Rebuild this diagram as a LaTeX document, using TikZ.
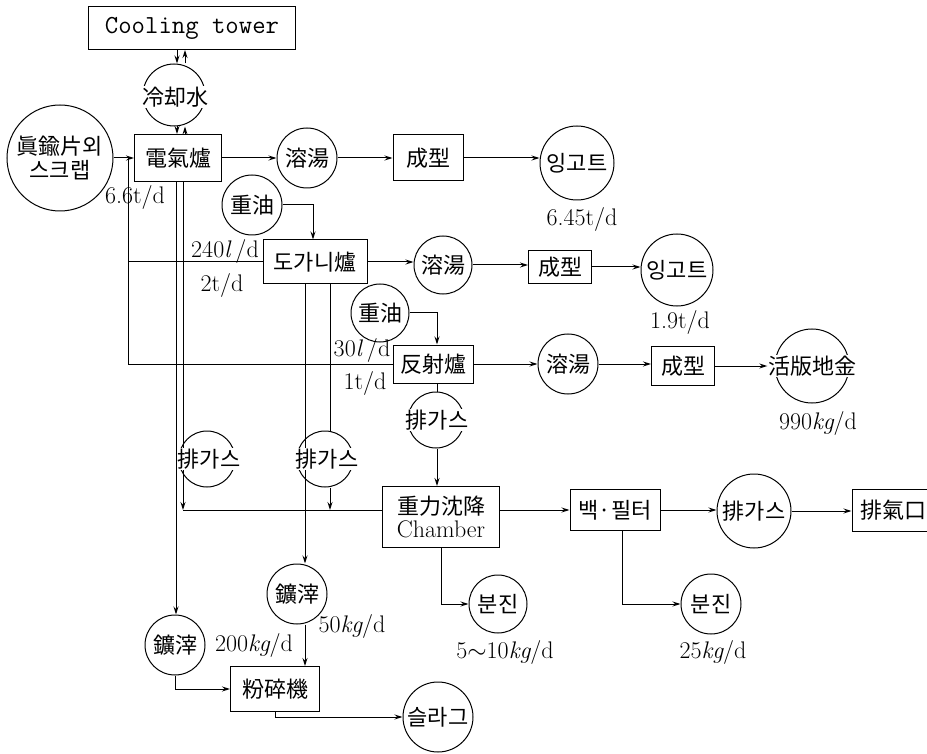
\documentclass[tikz,border=0pt]{standalone}
\usepackage{fontspec}
\newfontfamily\kr{Noto Sans CJK KR}
\usetikzlibrary{arrows.meta,backgrounds}
\begin{document}
\begin{tikzpicture}[x=1pt,y=-1pt,
  box/.style={draw,line width=1pt,inner sep=0pt,font=\kr\fontsize{22}{24}\selectfont},
  circ/.style={draw,circle,line width=1pt,inner sep=0pt,minimum size=#1,font=\kr\fontsize{22}{24}\selectfont},
  wtxt/.style={fill=white,inner sep=0.5pt,font=\kr\fontsize{22}{24}\selectfont},
  num/.style={inner sep=0pt,font=\fontsize{24}{26}\selectfont},
  ln/.style={line width=1pt},
  flow/.style={ln,-{Stealth[length=8pt,width=5pt]}}]
\useasboundingbox (0,0) rectangle (927,754);

% nodes
\node[box,minimum width=207,minimum height=43,font=\ttfamily\fontsize{26}{28}\selectfont] (ct) at (192,28) {Cooling tower};
\node[circ=62] (cw) at (174,95) {};
\node[wtxt] (cwt) at (175,97) {冷却水};
\node[box,minimum width=87,minimum height=47] (el) at (178,158) {電氣爐};
\node[circ=106,align=center] (sc) at (60,158) {眞鍮片외\\스크랩};
\node[num] (l66) at (135,198) {6.6t/d};

\node[circ=60] (o1) at (252,205) {重油};
\node[box,minimum width=104,minimum height=44] (dg) at (315,262) {도가니爐};
\node[num] (l240) at (225,252) {240\textit{l}\,/d};
\node[num] (l2) at (222,286) {2t/d};

\node[circ=60] (s1) at (307,158) {溶湯};
\node[box,minimum width=70,minimum height=46] (m1) at (428,158) {成型};
\node[circ=74] (i1) at (577,163) {잉고트};
\node[num] (l645) at (582,220) {6.45t/d};

\node[circ=58] (s2) at (443,265) {溶湯};
\node[box,minimum width=63,minimum height=33] (m2) at (560,267) {成型};
\node[circ=72] (i2) at (677,270) {잉고트};
\node[num] (l19) at (680,322) {1.9t/d};

\node[circ=58] (o2) at (380,313) {重油};
\node[num] (l30) at (362,350) {30\textit{l}\,/d};
\node[num] (l1) at (365,383) {1t/d};
\node[box,minimum width=80,minimum height=38] (fs) at (433,364) {反射爐};
\node[circ=60] (s3) at (568,364) {溶湯};
\node[box,minimum width=63,minimum height=39] (m3) at (683,366) {成型};
\node[circ=74] (hb) at (812,366) {};
\node[wtxt] (hbt) at (812,366) {活版地金};
\node[num] (l990) at (818,423) {990{\itshape kg}/d};

\node[circ=56] (ggC) at (436,420) {};
\node[wtxt] (ggCt) at (437,420) {排가스};
\node[circ=56] (ggA) at (207,459) {};
\node[wtxt] (ggAt) at (209,459) {排가스};
\node[circ=56] (ggB) at (325,459) {};
\node[wtxt] (ggBt) at (327,459) {排가스};

\node[box,minimum width=117,minimum height=61,align=center] (gc) at (441,517) {重力沈降\\[-1pt]{\rmfamily\fontsize{24}{24}\selectfont Chamber}};
\node[box,minimum width=90,minimum height=41] (bf) at (615,510) {백·필터};
\node[circ=74] (ggD) at (754,511) {排가스};
\node[box,minimum width=82,minimum height=42] (ex) at (893,510) {排氣口};

\node[circ=58] (bj1) at (498,604) {분진};
\node[num] (l510) at (505,652) {5$\sim$10{\itshape kg}/d};
\node[circ=60] (bj2) at (711,604) {분진};
\node[num] (l25) at (713,652) {25{\itshape kg}/d};

\node[circ=60] (km) at (297,594) {鑛滓};
\node[num] (l50) at (352,626) {50{\itshape kg}/d};
\node[circ=60] (kl) at (175,645) {鑛滓};
\node[num] (l200) at (254,645) {200{\itshape kg}/d};
\node[box,minimum width=89,minimum height=45] (pc) at (275,689) {粉碎機};
\node[circ=70] (sl) at (438,717) {슬라그};

% connectors
\coordinate (wl) at (177,0);
\coordinate (wr) at (185,0);
\coordinate (dj) at (128,158);
\coordinate (o1x) at (313,0);
\coordinate (o2x) at (437,0);
\coordinate (gy) at (0,510);
\coordinate (ax) at (183,0);
\coordinate (lx) at (176,0);
\coordinate (bx1) at (305,0);
\coordinate (bx2) at (330,0);
\coordinate (fx) at (622,0);

\begin{scope}[on background layer]
\draw[flow] (ct.south -| wl) -- (cw.north -| wl);
\draw[flow] (cw.south -| wl) -- (el.north -| wl);
\draw[flow] (el.north -| wr) -- (cw.south -| wr);
\draw[flow] (cw.north -| wr) -- (ct.south -| wr);

\draw[flow] (sc.east) -- (el.west);
\draw[ln] (dj) |- (fs.west);
\draw[ln] (dj |- dg.west) -- (dg.west);

\draw[flow] (el.east) -- (s1.west);
\draw[flow] (s1.east) -- (m1.west);
\draw[flow] (m1.east) -- (m1.east -| i1.west);

\draw[flow] (o1.east) -| (dg.north -| o1x);
\draw[flow] (dg.east) -- (dg.east -| s2.west);
\draw[flow] (s2.east) -- (s2.east -| m2.west);
\draw[flow] (m2.east) -- (m2.east -| i2.west);

\draw[flow] (o2.east) -| (fs.north -| o2x);
\draw[flow] (fs.east) -- (fs.east -| s3.west);
\draw[flow] (s3.east) -- (s3.east -| m3.west);
\draw[flow] (m3.east) -- (m3.east -| hbt.west);

\draw[ln] (fs.south -| o2x) -- (ggC.north -| o2x);
\draw[flow] (ggC.south -| o2x) -- (gc.north -| o2x);

\draw[flow] (el.south -| ax) -- (ax |- gy);
\draw[ln] (ax |- gy) -- (gc.west |- gy);
\draw[flow] (el.south -| lx) -- (kl.north -| lx);

\draw[flow] (dg.south -| bx1) -- (km.north -| bx1);
\draw[ln] (dg.south -| bx2) -- (ggB.north -| bx2);
\draw[flow] (ggB.south -| bx2) -- (bx2 |- gy);

\draw[flow] (km.south -| bx1) -- (pc.north -| bx1);
\draw[flow] (kl.south) |- (pc.west);
\draw[flow] (pc.south) |- (sl.west);

\draw[flow] (gc.south) |- (bj1.west);
\draw[flow] (gc.east |- bf.west) -- (bf.west);
\draw[flow] (bf.east) -- (bf.east -| ggD.west);
\draw[flow] (ggD.east) -- (ggD.east -| ex.west);
\draw[flow] (bf.south -| fx) |- (bj2.west);
\end{scope}
\end{tikzpicture}
\end{document}
